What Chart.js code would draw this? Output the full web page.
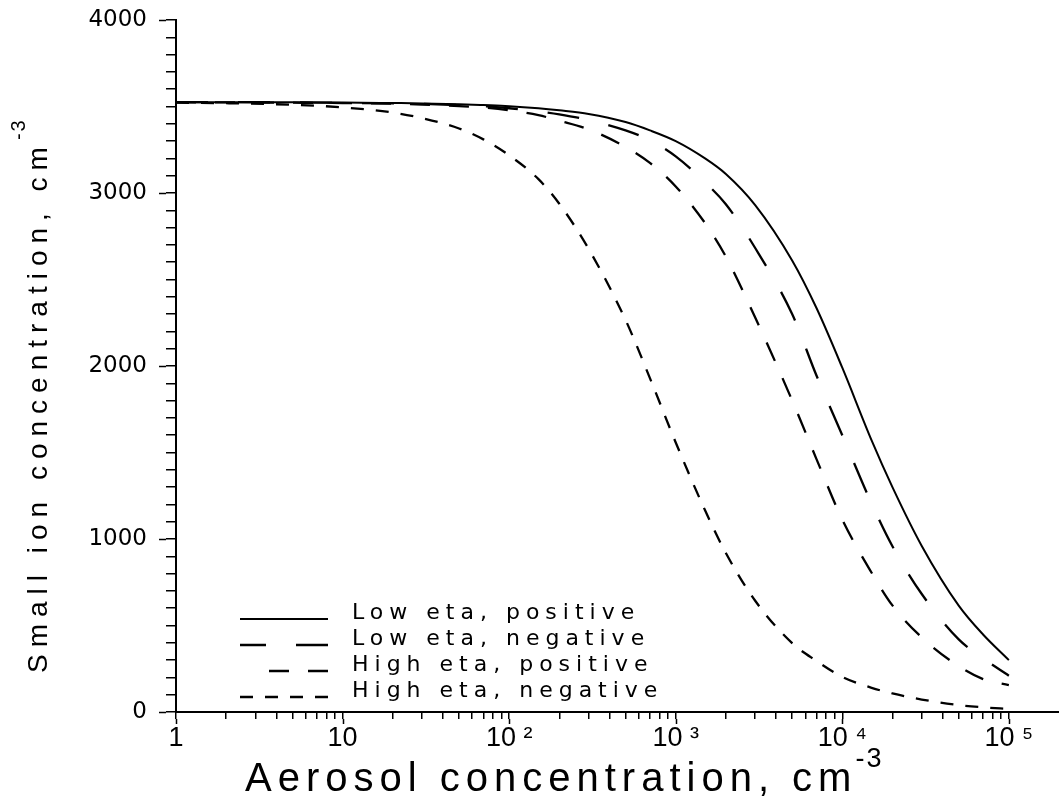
<!DOCTYPE html>
<html>
<head>
<meta charset="utf-8">
<script src="https://cdn.jsdelivr.net/npm/chart.js@4.4.1/dist/chart.umd.min.js"></script>
<style>
  html, body { margin: 0; padding: 0; background: #fff; }
  #wrap { width: 1059px; height: 802px; }
</style>
</head>
<body>
<div id="wrap"><canvas id="myChart" width="1059" height="802"></canvas></div>
<script>
// Aerosol concentration (cm^-3), shared x values of all curves
var aerosol = [1, 2, 5, 10, 20, 30, 50, 70, 100, 150, 200, 300, 500, 700,
  1000, 1500, 2000, 3000, 5000, 7000, 10000, 15000, 20000, 30000, 50000, 70000, 100000];

// Small ion concentration (cm^-3)
var lowEtaPos = [3525, 3525, 3524, 3523, 3520, 3518, 3513, 3508, 3502, 3490, 3478, 3457, 3410, 3362,
  3300, 3200, 3110, 2930, 2610, 2335, 1990, 1570, 1300, 960, 615, 448, 300];
var lowEtaNeg = [3525, 3525, 3524, 3521, 3518, 3515, 3508, 3502, 3490, 3472, 3455, 3422, 3362, 3305,
  3212, 3062, 2935, 2682, 2300, 1945, 1600, 1205, 958, 682, 420, 310, 210];
var highEtaPos = [3525, 3524, 3522, 3520, 3516, 3511, 3502, 3494, 3478, 3450, 3418, 3368, 3266, 3174,
  3038, 2826, 2632, 2280, 1801, 1462, 1112, 805, 616, 431, 265, 190, 155];
var highEtaNeg = [3522, 3519, 3510, 3495, 3465, 3433, 3373, 3310, 3218, 3080, 2938, 2677, 2266, 1930,
  1558, 1166, 919, 643, 398, 295, 203, 140, 107, 72, 40, 27, 18];

var seriesLabels = ["Low eta, positive", "Low eta, negative", "High eta, positive", "High eta, negative"];

// Tick labels
var xDecades = [1, 10, 100, 1000, 10000, 100000];
var xDecadeLabels = ["1", "10", "10 \u00b2", "10 \u00b3", "10 \u2074", "10 \u2075"];
var yMajor = [0, 1000, 2000, 3000, 4000];
var yMinorStep = 100;

var xTitle = "Aerosol concentration, cm";
var yTitle = "Small ion concentration, cm";
var unitExp = "-3";

function points(ys) {
  return aerosol.map(function (x, i) { return { x: x, y: ys[i] }; });
}

// minor ticks 1..9 per decade, up to 10^5
var xTickValues = [];
xDecades.forEach(function (d, i) {
  if (i === xDecades.length - 1) { xTickValues.push(d); return; }
  for (var k = 1; k < 10; k++) xTickValues.push(d * k);
});
var yTickValues = [];
for (var v = 0; v <= 4000; v += yMinorStep) yTickValues.push(v);

// legend, longer major ticks, axis titles
var decor = {
  id: "decor",
  afterDraw: function (chart) {
    var ctx = chart.ctx;
    var xs = chart.scales.x, ys = chart.scales.y;
    var area = chart.chartArea;
    ctx.save();
    ctx.strokeStyle = "#000";
    ctx.fillStyle = "#000";

    // longer major ticks
    ctx.lineWidth = 1.5;
    ctx.beginPath();
    yMajor.forEach(function (v) {
      var py = Math.round(ys.getPixelForValue(v)) + 0.5;
      ctx.moveTo(area.left - 10, py);
      ctx.lineTo(area.left - 17, py);
    });
    xDecades.forEach(function (v) {
      var px = Math.round(xs.getPixelForValue(v)) + 0.5;
      ctx.moveTo(px, area.bottom + 7);
      ctx.lineTo(px, area.bottom + 12);
    });
    ctx.stroke();

    // legend inside the plot
    var rowsY = [619, 645, 671, 697];
    var startX = [240, 240, 262, 240];
    chart.data.datasets.forEach(function (ds, i) {
      ctx.lineWidth = ds.borderWidth;
      ctx.setLineDash(ds.borderDash || []);
      ctx.beginPath();
      ctx.moveTo(328, rowsY[i]);
      ctx.lineTo(startX[i], rowsY[i]);
      ctx.stroke();
    });
    ctx.setLineDash([]);
    ctx.font = '22px "DejaVu Sans"';
    ctx.letterSpacing = "6px";
    ctx.textBaseline = "alphabetic";
    ctx.textAlign = "left";
    chart.data.datasets.forEach(function (ds, i) {
      ctx.fillText(ds.label, 352, rowsY[i]);
    });

    // x title
    ctx.font = '40px "Liberation Sans"';
    ctx.letterSpacing = "6px";
    ctx.fillText(xTitle, 245, 791);
    var w = ctx.measureText(xTitle).width;
    ctx.font = '27px "Liberation Sans"';
    ctx.letterSpacing = "2px";
    ctx.fillText(unitExp, 245 + w - 2, 767);

    // y title, rotated
    ctx.save();
    ctx.translate(47, 673);
    ctx.rotate(-Math.PI / 2);
    ctx.font = '28px "Liberation Sans"';
    ctx.letterSpacing = "7px";
    ctx.fillText(yTitle, 0, 0);
    w = ctx.measureText(yTitle).width;
    ctx.font = '20px "Liberation Sans"';
    ctx.letterSpacing = "2px";
    ctx.fillText(unitExp, w, -22);
    ctx.restore();

    ctx.restore();
  }
};

var myChart = document.getElementById("myChart").getContext("2d");
var chart = new Chart(myChart, {
  type: "line",
  data: {
    datasets: [
      { label: seriesLabels[0], data: points(lowEtaPos), borderColor: "#000", borderWidth: 2, borderDash: [] },
      { label: seriesLabels[1], data: points(lowEtaNeg), borderColor: "#000", borderWidth: 2.3, borderDash: [32, 30] },
      { label: seriesLabels[2], data: points(highEtaPos), borderColor: "#000", borderWidth: 2.3, borderDash: [20, 19] },
      { label: seriesLabels[3], data: points(highEtaNeg), borderColor: "#000", borderWidth: 2.3, borderDash: [13, 12] }
    ]
  },
  options: {
    responsive: false,
    animation: false,
    layout: { padding: { top: 20, right: 0, bottom: 0, left: 0 } },
    elements: {
      point: { radius: 0 },
      line: { cubicInterpolationMode: "monotone", fill: false }
    },
    plugins: { legend: { display: false }, tooltip: { enabled: false } },
    scales: {
      x: {
        type: "logarithmic",
        min: 1,
        max: 200000,
        afterBuildTicks: function (scale) {
          scale.ticks = xTickValues.map(function (v) { return { value: v }; });
        },
        afterFit: function (scale) { scale.height = 90; },
        ticks: {
          autoSkip: false,
          maxRotation: 0,
          padding: 3,
          color: "#000",
          font: { family: '"Liberation Sans Narrow", "Liberation Sans"', size: 27 },
          callback: function (value) {
            var i = xDecades.indexOf(value);
            return i >= 0 ? xDecadeLabels[i] : "";
          }
        },
        grid: { drawOnChartArea: false, tickLength: 7, color: "#000", lineWidth: 1.5 },
        border: { color: "#000", width: 2 }
      },
      y: {
        min: 0,
        max: 4000,
        afterBuildTicks: function (scale) {
          scale.ticks = yTickValues.map(function (v) { return { value: v }; });
        },
        afterFit: function (scale) {
          scale.width = 176;
          scale.paddingTop = 0;
          scale.paddingBottom = 0;
        },
        ticks: {
          autoSkip: false,
          padding: 19,
          color: "#000",
          font: { family: '"DejaVu Sans"', size: 23 },
          callback: function (value) {
            return yMajor.indexOf(value) >= 0 ? String(value) : "";
          }
        },
        grid: { drawOnChartArea: false, tickLength: 10, color: "#000", lineWidth: 1.5 },
        border: { color: "#000", width: 2 }
      }
    }
  },
  plugins: [decor]
});
</script>
</body>
</html>
